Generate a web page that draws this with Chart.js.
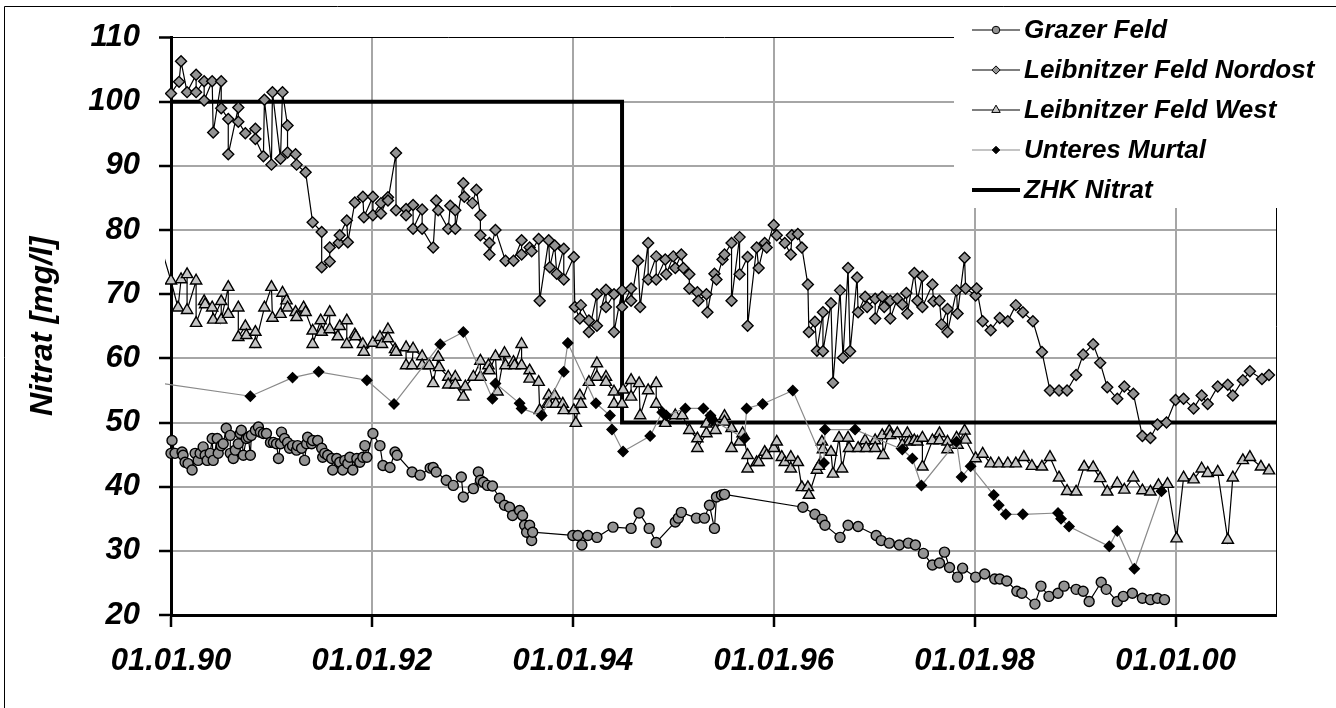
<!DOCTYPE html>
<html>
<head>
<meta charset="utf-8">
<title>Nitrat</title>
<script src="https://cdn.jsdelivr.net/npm/chart.js@4.4.1/dist/chart.umd.min.js"></script>
<style>
  html, body { margin: 0; padding: 0; background: #fff; }
  canvas { display: block; }
</style>
</head>
<body>
<canvas id="nitratchart" width="1336" height="708"></canvas>
<script>
var grazerYears = [1990.00,1990.01,1990.04,1990.11,1990.12,1990.14,1990.17,1990.21,1990.24,1990.27,1990.29,1990.32,1990.34,1990.36,1990.39,1990.41,1990.42,1990.46,1990.47,1990.50,
  1990.52,1990.55,1990.59,1990.59,1990.62,1990.64,1990.67,1990.69,1990.70,1990.72,1990.75,1990.77,1990.79,1990.80,1990.84,1990.87,1990.89,1990.92,1990.95,1990.99,
  1991.02,1991.05,1991.07,1991.09,1991.10,1991.13,1991.16,1991.18,1991.21,1991.25,1991.26,1991.30,1991.33,1991.35,1991.36,1991.40,1991.41,1991.46,1991.50,1991.51,
  1991.53,1991.56,1991.60,1991.61,1991.65,1991.68,1991.71,1991.73,1991.76,1991.78,1991.81,1991.85,1991.88,1991.91,1991.93,1991.95,1992.01,1992.08,1992.11,1992.18,
  1992.23,1992.25,1992.40,1992.48,1992.58,1992.61,1992.64,1992.74,1992.81,1992.89,1992.91,1993.01,1993.06,1993.08,1993.11,1993.15,1993.20,1993.27,1993.32,1993.37,
  1993.40,1993.47,1993.50,1993.52,1993.54,1993.57,1993.59,1993.60,1994.00,1994.05,1994.09,1994.15,1994.24,1994.40,1994.58,1994.66,1994.76,1994.83,1995.02,1995.05,
  1995.08,1995.23,1995.31,1995.36,1995.41,1995.43,1995.48,1995.51,1996.29,1996.41,1996.48,1996.51,1996.66,1996.74,1996.84,1997.02,1997.07,1997.15,1997.25,1997.34,
  1997.41,1997.49,1997.58,1997.65,1997.70,1997.75,1997.83,1997.88,1998.01,1998.10,1998.20,1998.25,1998.32,1998.42,1998.47,1998.60,1998.66,1998.74,1998.83,1998.89,
  1999.01,1999.08,1999.14,1999.26,1999.31,1999.42,1999.48,1999.57,1999.67,1999.75,1999.82,1999.89];
var grazerValues = [45.2,47.2,45.2,45.4,44.9,43.8,43.6,42.6,45.2,44.1,45.2,46.2,44.9,44.1,45.2,47.5,44.1,47.5,45.2,46.4,
  46.7,49.1,48.0,45.2,44.4,45.7,46.7,48.3,48.8,44.9,47.5,47.7,44.9,48.0,48.8,49.3,48.5,48.3,48.3,46.9,
  46.9,46.7,44.4,46.7,48.5,47.5,46.9,46.0,46.4,45.7,46.4,46.0,44.1,46.7,47.7,46.7,47.2,47.2,46.0,44.6,
  45.2,44.9,44.4,42.6,44.4,43.8,42.6,44.1,43.6,44.6,42.6,44.4,43.8,44.6,46.4,44.6,48.3,46.4,43.3,43.0,
  45.4,44.9,42.3,41.8,42.9,43.0,42.3,41.0,40.2,41.5,38.4,39.7,42.3,41.0,40.7,40.2,40.1,38.2,37.1,36.8,
  35.5,36.3,35.5,34.0,32.9,34.0,31.6,32.9,32.4,32.4,30.9,32.4,32.1,33.7,33.5,35.9,33.5,31.3,34.5,35.1,
  36.0,35.1,35.1,37.1,33.5,38.4,38.7,38.8,36.8,35.7,34.9,34.0,32.1,34.0,33.8,32.4,31.6,31.2,30.9,31.2,
  30.9,29.6,27.8,28.1,29.8,27.4,25.9,27.3,25.9,26.4,25.6,25.6,25.3,23.7,23.4,21.7,24.5,22.9,23.4,24.5,
  24.0,23.7,22.1,25.1,24.0,22.1,22.9,23.4,22.6,22.4,22.6,22.4];

var nordostYears = [1990.00,1990.08,1990.10,1990.16,1990.25,1990.25,1990.33,1990.33,1990.41,1990.42,1990.50,1990.50,1990.57,1990.57,1990.67,1990.67,1990.74,1990.84,1990.84,1990.92,
  1990.93,1991.00,1991.01,1991.09,1991.11,1991.16,1991.16,1991.24,1991.25,1991.34,1991.41,1991.50,1991.50,1991.58,1991.58,1991.67,1991.68,1991.75,1991.76,1991.83,
  1991.91,1991.92,1992.01,1992.01,1992.09,1992.09,1992.16,1992.16,1992.24,1992.24,1992.34,1992.34,1992.41,1992.41,1992.50,1992.50,1992.61,1992.64,1992.66,1992.76,
  1992.78,1992.83,1992.83,1992.91,1992.92,1993.00,1993.04,1993.08,1993.08,1993.17,1993.17,1993.23,1993.33,1993.41,1993.49,1993.49,1993.57,1993.59,1993.66,1993.67,
  1993.76,1993.77,1993.82,1993.84,1993.91,1993.91,1994.01,1994.02,1994.07,1994.08,1994.16,1994.16,1994.24,1994.24,1994.33,1994.33,1994.41,1994.41,1994.49,1994.49,
  1994.58,1994.58,1994.65,1994.67,1994.75,1994.75,1994.83,1994.83,1994.92,1994.93,1995.00,1995.02,1995.08,1995.10,1995.16,1995.16,1995.24,1995.25,1995.33,1995.34,
  1995.41,1995.43,1995.49,1995.51,1995.58,1995.58,1995.66,1995.66,1995.74,1995.74,1995.83,1995.85,1995.91,1995.93,1996.00,1996.03,1996.11,1996.17,1996.18,1996.24,
  1996.28,1996.34,1996.35,1996.41,1996.43,1996.49,1996.49,1996.57,1996.59,1996.66,1996.69,1996.74,1996.76,1996.83,1996.84,1996.91,1996.93,1997.01,1997.01,1997.08,
  1997.10,1997.16,1997.16,1997.23,1997.28,1997.32,1997.33,1997.40,1997.43,1997.48,1997.48,1997.58,1997.59,1997.65,1997.67,1997.73,1997.73,1997.82,1997.83,1997.90,
  1997.91,1998.01,1998.02,1998.08,1998.16,1998.25,1998.33,1998.41,1998.48,1998.58,1998.67,1998.75,1998.84,1998.92,1999.01,1999.08,1999.18,1999.25,1999.32,1999.42,
  1999.49,1999.58,1999.67,1999.75,1999.82,1999.91,2000.00,2000.08,2000.18,2000.26,2000.32,2000.42,2000.52,2000.57,2000.67,2000.74,2000.86,2000.93];
var nordostValues = [101.3,103.1,106.3,101.5,104.2,101.5,103.2,100.2,103.2,95.2,103.2,99.0,97.3,91.8,99.1,96.9,95.1,95.8,94.2,91.5,
  100.3,90.2,101.5,91.1,101.5,96.3,92.1,91.8,90.2,89.0,81.2,79.7,74.2,75.1,77.3,78.0,79.2,81.5,78.1,84.3,
  85.2,82.0,85.2,82.3,84.2,82.6,85.1,84.6,92.0,83.1,83.3,82.3,83.9,80.2,83.2,80.2,77.3,84.6,83.1,80.2,
  83.8,83.1,80.2,87.3,85.2,84.2,86.3,82.3,79.2,78.0,76.2,80.0,75.2,75.2,78.4,76.2,77.3,76.7,78.6,69.0,
  78.4,74.2,77.6,73.2,77.1,72.3,75.8,68.0,66.2,68.3,65.9,64.1,70.0,65.1,70.7,68.0,70.0,64.1,70.6,68.0,
  70.9,69.0,75.2,68.0,78.0,72.3,75.9,72.3,75.4,73.1,75.9,74.1,76.2,74.1,73.1,70.9,70.3,69.0,70.0,67.2,
  73.2,72.3,75.4,76.2,78.0,69.0,78.9,73.1,75.8,65.1,77.3,74.1,78.0,77.3,80.8,79.2,78.0,76.2,79.2,79.4,
  77.3,71.5,64.1,65.7,61.2,67.2,61.1,68.6,56.2,70.6,60.1,74.1,61.1,72.6,67.2,69.6,68.0,69.3,66.2,69.6,
  68.0,69.0,66.2,69.3,68.4,70.2,67.0,73.3,69.0,72.8,68.0,71.5,68.9,69.0,65.3,67.7,64.1,70.6,67.0,75.7,
  70.9,69.8,70.9,65.8,64.4,66.3,65.8,68.3,67.2,65.8,61.0,55.0,55.0,55.0,57.4,60.6,62.2,59.3,55.5,53.7,
  55.6,54.5,47.9,47.6,49.7,50.0,53.5,53.7,52.2,54.2,52.9,55.6,55.9,54.2,56.6,58.0,56.8,57.4];

var westYears = [1989.85,1990.00,1990.07,1990.10,1990.16,1990.16,1990.25,1990.25,1990.33,1990.34,1990.41,1990.42,1990.50,1990.50,1990.57,1990.57,1990.67,1990.67,1990.74,1990.75,
  1990.84,1990.84,1990.93,1991.00,1991.01,1991.09,1991.11,1991.15,1991.16,1991.24,1991.25,1991.32,1991.34,1991.41,1991.41,1991.49,1991.50,1991.58,1991.58,1991.66,
  1991.68,1991.75,1991.75,1991.83,1991.84,1991.91,1991.92,1992.01,1992.08,1992.10,1992.16,1992.16,1992.23,1992.24,1992.34,1992.34,1992.40,1992.41,1992.50,1992.50,
  1992.57,1992.61,1992.66,1992.67,1992.76,1992.76,1992.83,1992.83,1992.91,1992.93,1993.01,1993.08,1993.08,1993.16,1993.17,1993.23,1993.25,1993.32,1993.33,1993.41,
  1993.42,1993.49,1993.49,1993.57,1993.57,1993.66,1993.67,1993.76,1993.76,1993.82,1993.83,1993.90,1993.91,1994.01,1994.03,1994.07,1994.08,1994.16,1994.24,1994.24,
  1994.33,1994.33,1994.41,1994.41,1994.49,1994.50,1994.58,1994.58,1994.66,1994.67,1994.75,1994.83,1994.83,1994.92,1995.02,1995.09,1995.16,1995.24,1995.24,1995.33,
  1995.33,1995.41,1995.42,1995.51,1995.51,1995.58,1995.58,1995.66,1995.69,1995.74,1995.74,1995.83,1995.85,1995.91,1995.93,1996.00,1996.03,1996.08,1996.11,1996.17,
  1996.17,1996.24,1996.28,1996.34,1996.35,1996.43,1996.45,1996.48,1996.49,1996.57,1996.59,1996.65,1996.68,1996.74,1996.75,1996.84,1996.91,1996.92,1997.01,1997.01,
  1997.08,1997.09,1997.15,1997.16,1997.23,1997.28,1997.33,1997.35,1997.40,1997.43,1997.48,1997.48,1997.58,1997.65,1997.65,1997.73,1997.73,1997.82,1997.83,1997.90,
  1997.91,1998.01,1998.08,1998.16,1998.24,1998.33,1998.41,1998.49,1998.57,1998.67,1998.75,1998.84,1998.92,1999.01,1999.09,1999.18,1999.25,1999.32,1999.42,1999.49,
  1999.58,1999.67,1999.75,1999.83,1999.92,2000.01,2000.08,2000.18,2000.26,2000.32,2000.42,2000.52,2000.57,2000.67,2000.74,2000.85,2000.93];
var westValues = [80.0,72.1,67.9,72.3,73.1,67.5,72.1,65.5,68.9,68.4,67.9,66.0,68.9,66.0,71.1,66.9,67.9,63.3,65.0,63.6,
  64.1,62.2,67.9,71.1,66.3,66.9,70.2,69.0,67.9,67.2,66.4,67.9,67.2,64.3,62.2,65.9,64.1,67.2,64.5,63.4,
  65.0,65.9,62.2,63.7,63.4,62.2,61.0,62.4,63.3,62.2,64.5,63.1,61.4,61.0,61.7,58.9,58.9,61.5,60.3,58.9,
  58.9,56.1,60.2,58.6,57.1,55.9,57.1,55.9,54.0,55.6,57.1,59.6,57.1,58.9,58.1,60.3,54.8,60.8,58.9,59.4,
  58.9,62.2,58.9,58.1,56.8,56.3,51.9,54.2,52.9,54.2,52.9,52.9,51.9,51.9,49.9,54.2,52.9,56.3,59.2,57.1,
  57.1,56.3,54.8,52.9,52.9,55.1,56.6,54.0,56.1,51.1,55.0,56.1,52.9,49.9,51.1,51.1,48.8,47.5,46.0,48.3,
  49.8,50.1,48.8,51.0,50.1,49.1,46.0,47.0,48.3,44.9,42.8,43.8,43.8,45.4,44.9,46.0,47.0,44.6,43.8,44.6,
  42.8,43.8,39.9,39.9,38.7,42.6,43.2,47.0,45.8,45.4,42.0,47.6,42.8,47.6,46.0,46.0,47.2,46.0,47.2,46.0,
  48.0,44.9,48.7,48.0,48.3,46.5,48.3,47.0,47.2,47.0,47.6,43.1,47.2,48.3,47.2,47.0,45.8,47.6,46.5,48.7,
  47.3,44.4,45.1,43.6,43.6,43.6,43.6,44.6,43.2,43.1,44.6,41.4,39.3,39.2,43.1,43.0,41.3,39.2,40.5,39.5,
  41.4,39.4,39.2,40.2,40.4,31.9,41.4,41.1,42.8,42.1,42.3,31.7,41.4,44.1,44.6,43.1,42.5];

var murtalYears = [1989.50,1990.79,1991.21,1991.47,1991.95,1992.22,1992.68,1992.91,1993.20,1993.23,1993.47,1993.49,1993.69,1993.91,1993.95,1994.23,1994.37,1994.39,1994.50,1994.77,
  1994.89,1994.93,1995.12,1995.30,1995.37,1995.39,1995.71,1995.73,1995.89,1996.19,1996.50,1996.51,1996.81,1997.28,1997.38,1997.47,1997.82,1997.87,1997.96,1998.19,
  1998.24,1998.31,1998.48,1998.83,1998.86,1998.94,1999.34,1999.42,1999.59,1999.86];
var murtalValues = [57.0,54.1,57.0,57.9,56.6,52.9,62.2,64.1,53.7,56.1,53.0,52.2,51.1,57.9,62.4,53.0,51.1,48.9,45.5,47.9,
  51.6,51.1,52.2,52.2,51.1,50.4,47.5,52.2,52.9,55.0,43.7,48.9,48.9,45.8,44.4,40.2,47.0,41.5,43.2,38.7,
  37.1,35.7,35.7,35.9,35.0,33.8,30.7,33.1,27.2,39.3];

var zhkYears = [1990, 1994.49, 1994.49, 2001];
var zhkValues = [100, 100, 50, 50];

var seriesLabels = ['Grazer Feld', 'Leibnitzer Feld Nordost', 'Leibnitzer Feld West', 'Unteres Murtal', 'ZHK Nitrat'];
var xTickYears = [1990, 1992, 1994, 1996, 1998, 2000];
var xTickLabels = ['01.01.90', '01.01.92', '01.01.94', '01.01.96', '01.01.98', '01.01.00'];
var yTickValues = [20, 30, 40, 50, 60, 70, 80, 90, 100, 110];

var fontFamily = "'Liberation Sans', Arial, sans-serif";

var toPoints = function(xs, ys) {
  return xs.map(function(x, i) { return {x: x, y: ys[i]}; });
};

// thin black frame on the right side of the plot and the outer picture frame
var framePlugin = {
  id: 'frame',
  beforeDatasetsDraw: function(chart) {
    var a = chart.chartArea, ctx = chart.ctx;
    ctx.save();
    ctx.strokeStyle = '#000';
    ctx.lineWidth = 1;
    ctx.beginPath();
    ctx.moveTo(Math.round(a.right) + 0.5, a.top);
    ctx.lineTo(Math.round(a.right) + 0.5, a.bottom);
    ctx.stroke();
    ctx.restore();
  },
  afterDraw: function(chart) {
    var ctx = chart.ctx;
    ctx.save();
    ctx.strokeStyle = '#000';
    ctx.lineWidth = 1;
    ctx.beginPath();
    ctx.moveTo(4.5, 708);
    ctx.lineTo(4.5, 6.5);
    ctx.lineTo(1336, 6.5);
    ctx.stroke();
    ctx.restore();
  }
};

// legend box sits on top of the plot, white background
var legendPlugin = {
  id: 'boxLegend',
  afterDraw: function(chart) {
    var ctx = chart.ctx;
    ctx.save();
    ctx.fillStyle = '#fff';
    ctx.fillRect(954, 9, 382, 199);
    ctx.font = 'italic bold 26px ' + fontFamily;
    ctx.textBaseline = 'middle';
    ctx.textAlign = 'left';
    chart.data.datasets.forEach(function(ds, i) {
      var y = 30 + i * 40;
      ctx.strokeStyle = ds.borderColor;
      ctx.lineWidth = ds.borderWidth;
      ctx.beginPath();
      ctx.moveTo(972, y);
      ctx.lineTo(1020, y);
      ctx.stroke();
      if (ds.pointRadius > 0) {
        ctx.fillStyle = ds.pointBackgroundColor;
        ctx.strokeStyle = '#000';
        ctx.lineWidth = 1;
        Chart.helpers.drawPoint(ctx, {pointStyle: ds.pointStyle, radius: ds.pointRadius * 0.75, borderWidth: 1, rotation: 0}, 996, y);
      }
      ctx.fillStyle = '#000';
      ctx.fillText(ds.label, 1024, y + 1);
    });
    ctx.restore();
  }
};

var markerLine = function(label, xs, ys, style, fill, radius, lineColor, order) {
  return {
    label: label,
    data: toPoints(xs, ys),
    borderColor: lineColor,
    borderWidth: 1.2,
    pointStyle: style,
    pointRadius: radius,
    pointHoverRadius: radius,
    pointBackgroundColor: fill,
    pointBorderColor: '#000',
    pointBorderWidth: 1.4,
    tension: 0,
    order: order,
    clip: {left: 6, top: 6, right: 6, bottom: 6}
  };
};

var ctx = document.getElementById('nitratchart').getContext('2d');
var nitratchart = new Chart(ctx, {
  type: 'line',
  data: {
    datasets: [
      markerLine(seriesLabels[0], grazerYears, grazerValues, 'circle', '#939393', 5, '#000', 4),
      markerLine(seriesLabels[1], nordostYears, nordostValues, 'rectRot', '#939393', 5.5, '#000', 3),
      markerLine(seriesLabels[2], westYears, westValues, 'triangle', '#c4c4c4', 6.5, '#000', 2),
      markerLine(seriesLabels[3], murtalYears, murtalValues, 'rectRot', '#000', 5, '#8a8a8a', 1),
      {
        label: seriesLabels[4],
        data: toPoints(zhkYears, zhkValues),
        borderColor: '#000',
        borderWidth: 4,
        pointRadius: 0,
        tension: 0,
        order: 5,
        clip: {left: 0, top: 6, right: 0, bottom: 6}
      }
    ]
  },
  options: {
    responsive: false,
    animation: false,
    events: [],
    layout: { padding: { left: 0, right: 60, top: 37, bottom: 0 } },
    plugins: { legend: { display: false }, tooltip: { enabled: false } },
    scales: {
      x: {
        type: 'linear',
        min: 1990,
        max: 2001,
        afterBuildTicks: function(scale) {
          scale.ticks = xTickYears.map(function(v) { return {value: v}; });
        },
        afterFit: function(scale) { scale.height = 93; },
        ticks: {
          autoSkip: false,
          maxRotation: 0,
          padding: 16,
          color: '#000',
          font: { family: fontFamily, size: 31, style: 'italic', weight: 'bold' },
          callback: function(v, i) { return xTickLabels[i]; }
        },
        grid: { color: '#a6a6a6', lineWidth: 2, tickLength: 12, tickColor: '#000', tickWidth: 2.5 },
        border: { display: true, color: '#000', width: 3 }
      },
      y: {
        min: 20,
        max: 110,
        afterBuildTicks: function(scale) {
          scale.ticks = yTickValues.map(function(v) { return {value: v}; });
        },
        afterFit: function(scale) { scale.width = 171; },
        ticks: {
          padding: 19,
          color: '#000',
          font: { family: fontFamily, size: 31, style: 'italic', weight: 'bold' }
        },
        grid: {
          color: function(c) { return c.tick && c.tick.value === 110 ? '#000' : '#a6a6a6'; },
          lineWidth: function(c) { return c.tick && c.tick.value === 110 ? 1 : 2; },
          tickLength: 12,
          tickColor: '#000',
          tickWidth: 2.5
        },
        border: { display: true, color: '#000', width: 3 },
        title: {
          display: true,
          text: 'Nitrat [mg/l]',
          color: '#000',
          padding: { top: 24, bottom: 0 },
          font: { family: fontFamily, size: 32, style: 'italic', weight: 'bold' }
        }
      }
    }
  },
  plugins: [framePlugin, legendPlugin]
});
</script>
</body>
</html>
